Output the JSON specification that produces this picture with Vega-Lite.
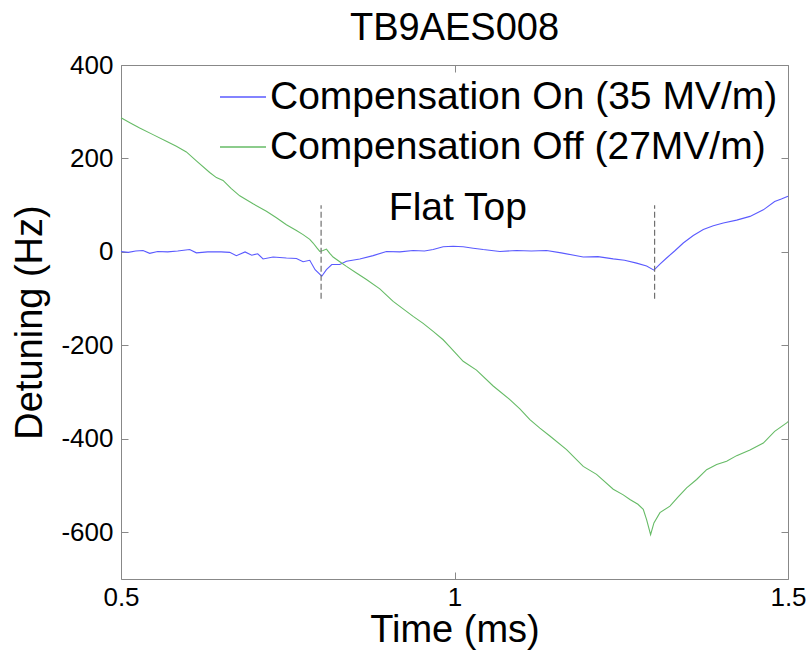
{
  "$schema": "https://vega.github.io/schema/vega-lite/v6.json",
  "autosize": {"type": "none"},
  "width": 667,
  "height": 514,
  "padding": {"left": 121, "top": 65, "right": 22, "bottom": 78},
  "background": "white",
  "config": {
    "font": "Liberation Sans",
    "view": {"stroke": "#888888", "strokeWidth": 1},
    "axis": {"grid": false, "domain": false, "tickColor": "#888888", "tickSize": -7, "labelColor": "black", "labelFont": "Liberation Sans", "labelFontSize": 26, "titleFont": "Liberation Sans", "titleFontSize": 38, "titleFontWeight": "normal", "titleColor": "black"}
  },
  "title": {"text": "TB9AES008", "fontSize": 38, "fontWeight": "normal", "font": "Liberation Sans", "color": "black", "offset": 4, "anchor": "middle"},
  "datasets": {
    "lines": [
      {"t":0.500,"v":1,"s":"Compensation On (35 MV/m)"},
      {"t":0.511,"v":-1,"s":"Compensation On (35 MV/m)"},
      {"t":0.522,"v":2,"s":"Compensation On (35 MV/m)"},
      {"t":0.533,"v":3,"s":"Compensation On (35 MV/m)"},
      {"t":0.543,"v":-3,"s":"Compensation On (35 MV/m)"},
      {"t":0.555,"v":1,"s":"Compensation On (35 MV/m)"},
      {"t":0.570,"v":0,"s":"Compensation On (35 MV/m)"},
      {"t":0.585,"v":2,"s":"Compensation On (35 MV/m)"},
      {"t":0.603,"v":5,"s":"Compensation On (35 MV/m)"},
      {"t":0.613,"v":-2,"s":"Compensation On (35 MV/m)"},
      {"t":0.630,"v":0,"s":"Compensation On (35 MV/m)"},
      {"t":0.650,"v":0,"s":"Compensation On (35 MV/m)"},
      {"t":0.663,"v":-1,"s":"Compensation On (35 MV/m)"},
      {"t":0.673,"v":-8,"s":"Compensation On (35 MV/m)"},
      {"t":0.686,"v":0,"s":"Compensation On (35 MV/m)"},
      {"t":0.696,"v":-7,"s":"Compensation On (35 MV/m)"},
      {"t":0.705,"v":-4,"s":"Compensation On (35 MV/m)"},
      {"t":0.713,"v":-15,"s":"Compensation On (35 MV/m)"},
      {"t":0.728,"v":-11,"s":"Compensation On (35 MV/m)"},
      {"t":0.748,"v":-13,"s":"Compensation On (35 MV/m)"},
      {"t":0.763,"v":-14,"s":"Compensation On (35 MV/m)"},
      {"t":0.773,"v":-21,"s":"Compensation On (35 MV/m)"},
      {"t":0.783,"v":-18,"s":"Compensation On (35 MV/m)"},
      {"t":0.791,"v":-38,"s":"Compensation On (35 MV/m)"},
      {"t":0.801,"v":-52,"s":"Compensation On (35 MV/m)"},
      {"t":0.808,"v":-38,"s":"Compensation On (35 MV/m)"},
      {"t":0.816,"v":-27,"s":"Compensation On (35 MV/m)"},
      {"t":0.828,"v":-27,"s":"Compensation On (35 MV/m)"},
      {"t":0.838,"v":-20,"s":"Compensation On (35 MV/m)"},
      {"t":0.858,"v":-15,"s":"Compensation On (35 MV/m)"},
      {"t":0.878,"v":-8,"s":"Compensation On (35 MV/m)"},
      {"t":0.898,"v":1,"s":"Compensation On (35 MV/m)"},
      {"t":0.918,"v":0,"s":"Compensation On (35 MV/m)"},
      {"t":0.938,"v":3,"s":"Compensation On (35 MV/m)"},
      {"t":0.955,"v":2,"s":"Compensation On (35 MV/m)"},
      {"t":0.968,"v":5,"s":"Compensation On (35 MV/m)"},
      {"t":0.983,"v":11,"s":"Compensation On (35 MV/m)"},
      {"t":0.998,"v":12,"s":"Compensation On (35 MV/m)"},
      {"t":1.013,"v":11,"s":"Compensation On (35 MV/m)"},
      {"t":1.028,"v":8,"s":"Compensation On (35 MV/m)"},
      {"t":1.043,"v":5,"s":"Compensation On (35 MV/m)"},
      {"t":1.068,"v":1,"s":"Compensation On (35 MV/m)"},
      {"t":1.093,"v":3,"s":"Compensation On (35 MV/m)"},
      {"t":1.115,"v":2,"s":"Compensation On (35 MV/m)"},
      {"t":1.138,"v":3,"s":"Compensation On (35 MV/m)"},
      {"t":1.160,"v":-2,"s":"Compensation On (35 MV/m)"},
      {"t":1.193,"v":-11,"s":"Compensation On (35 MV/m)"},
      {"t":1.215,"v":-10,"s":"Compensation On (35 MV/m)"},
      {"t":1.238,"v":-15,"s":"Compensation On (35 MV/m)"},
      {"t":1.255,"v":-18,"s":"Compensation On (35 MV/m)"},
      {"t":1.273,"v":-24,"s":"Compensation On (35 MV/m)"},
      {"t":1.288,"v":-30,"s":"Compensation On (35 MV/m)"},
      {"t":1.299,"v":-39,"s":"Compensation On (35 MV/m)"},
      {"t":1.308,"v":-26,"s":"Compensation On (35 MV/m)"},
      {"t":1.318,"v":-13,"s":"Compensation On (35 MV/m)"},
      {"t":1.330,"v":2,"s":"Compensation On (35 MV/m)"},
      {"t":1.343,"v":19,"s":"Compensation On (35 MV/m)"},
      {"t":1.358,"v":35,"s":"Compensation On (35 MV/m)"},
      {"t":1.373,"v":48,"s":"Compensation On (35 MV/m)"},
      {"t":1.388,"v":56,"s":"Compensation On (35 MV/m)"},
      {"t":1.403,"v":62,"s":"Compensation On (35 MV/m)"},
      {"t":1.423,"v":68,"s":"Compensation On (35 MV/m)"},
      {"t":1.443,"v":76,"s":"Compensation On (35 MV/m)"},
      {"t":1.463,"v":90,"s":"Compensation On (35 MV/m)"},
      {"t":1.480,"v":108,"s":"Compensation On (35 MV/m)"},
      {"t":1.490,"v":113,"s":"Compensation On (35 MV/m)"},
      {"t":1.500,"v":119,"s":"Compensation On (35 MV/m)"},
      {"t":0.500,"v":287,"s":"Compensation Off (27MV/m)"},
      {"t":0.514,"v":276,"s":"Compensation Off (27MV/m)"},
      {"t":0.528,"v":265,"s":"Compensation Off (27MV/m)"},
      {"t":0.548,"v":251,"s":"Compensation Off (27MV/m)"},
      {"t":0.568,"v":237,"s":"Compensation Off (27MV/m)"},
      {"t":0.583,"v":226,"s":"Compensation Off (27MV/m)"},
      {"t":0.598,"v":214,"s":"Compensation Off (27MV/m)"},
      {"t":0.613,"v":195,"s":"Compensation Off (27MV/m)"},
      {"t":0.633,"v":170,"s":"Compensation Off (27MV/m)"},
      {"t":0.643,"v":159,"s":"Compensation Off (27MV/m)"},
      {"t":0.653,"v":153,"s":"Compensation Off (27MV/m)"},
      {"t":0.665,"v":136,"s":"Compensation Off (27MV/m)"},
      {"t":0.678,"v":120,"s":"Compensation Off (27MV/m)"},
      {"t":0.698,"v":103,"s":"Compensation Off (27MV/m)"},
      {"t":0.718,"v":87,"s":"Compensation Off (27MV/m)"},
      {"t":0.733,"v":73,"s":"Compensation Off (27MV/m)"},
      {"t":0.748,"v":58,"s":"Compensation Off (27MV/m)"},
      {"t":0.763,"v":46,"s":"Compensation Off (27MV/m)"},
      {"t":0.773,"v":37,"s":"Compensation Off (27MV/m)"},
      {"t":0.783,"v":27,"s":"Compensation Off (27MV/m)"},
      {"t":0.788,"v":19,"s":"Compensation Off (27MV/m)"},
      {"t":0.794,"v":8,"s":"Compensation Off (27MV/m)"},
      {"t":0.798,"v":1,"s":"Compensation Off (27MV/m)"},
      {"t":0.803,"v":3,"s":"Compensation Off (27MV/m)"},
      {"t":0.808,"v":6,"s":"Compensation Off (27MV/m)"},
      {"t":0.813,"v":-3,"s":"Compensation Off (27MV/m)"},
      {"t":0.818,"v":-11,"s":"Compensation Off (27MV/m)"},
      {"t":0.828,"v":-21,"s":"Compensation Off (27MV/m)"},
      {"t":0.838,"v":-31,"s":"Compensation Off (27MV/m)"},
      {"t":0.853,"v":-45,"s":"Compensation Off (27MV/m)"},
      {"t":0.868,"v":-59,"s":"Compensation Off (27MV/m)"},
      {"t":0.888,"v":-79,"s":"Compensation Off (27MV/m)"},
      {"t":0.908,"v":-106,"s":"Compensation Off (27MV/m)"},
      {"t":0.923,"v":-122,"s":"Compensation Off (27MV/m)"},
      {"t":0.938,"v":-138,"s":"Compensation Off (27MV/m)"},
      {"t":0.953,"v":-153,"s":"Compensation Off (27MV/m)"},
      {"t":0.968,"v":-170,"s":"Compensation Off (27MV/m)"},
      {"t":0.983,"v":-188,"s":"Compensation Off (27MV/m)"},
      {"t":0.993,"v":-203,"s":"Compensation Off (27MV/m)"},
      {"t":1.013,"v":-234,"s":"Compensation Off (27MV/m)"},
      {"t":1.033,"v":-253,"s":"Compensation Off (27MV/m)"},
      {"t":1.058,"v":-287,"s":"Compensation Off (27MV/m)"},
      {"t":1.083,"v":-316,"s":"Compensation Off (27MV/m)"},
      {"t":1.098,"v":-336,"s":"Compensation Off (27MV/m)"},
      {"t":1.113,"v":-359,"s":"Compensation Off (27MV/m)"},
      {"t":1.128,"v":-377,"s":"Compensation Off (27MV/m)"},
      {"t":1.143,"v":-394,"s":"Compensation Off (27MV/m)"},
      {"t":1.168,"v":-423,"s":"Compensation Off (27MV/m)"},
      {"t":1.193,"v":-459,"s":"Compensation Off (27MV/m)"},
      {"t":1.213,"v":-476,"s":"Compensation Off (27MV/m)"},
      {"t":1.238,"v":-508,"s":"Compensation Off (27MV/m)"},
      {"t":1.253,"v":-520,"s":"Compensation Off (27MV/m)"},
      {"t":1.263,"v":-530,"s":"Compensation Off (27MV/m)"},
      {"t":1.275,"v":-540,"s":"Compensation Off (27MV/m)"},
      {"t":1.283,"v":-551,"s":"Compensation Off (27MV/m)"},
      {"t":1.288,"v":-573,"s":"Compensation Off (27MV/m)"},
      {"t":1.294,"v":-605,"s":"Compensation Off (27MV/m)"},
      {"t":1.299,"v":-580,"s":"Compensation Off (27MV/m)"},
      {"t":1.308,"v":-558,"s":"Compensation Off (27MV/m)"},
      {"t":1.323,"v":-544,"s":"Compensation Off (27MV/m)"},
      {"t":1.335,"v":-525,"s":"Compensation Off (27MV/m)"},
      {"t":1.348,"v":-505,"s":"Compensation Off (27MV/m)"},
      {"t":1.363,"v":-487,"s":"Compensation Off (27MV/m)"},
      {"t":1.378,"v":-466,"s":"Compensation Off (27MV/m)"},
      {"t":1.393,"v":-455,"s":"Compensation Off (27MV/m)"},
      {"t":1.408,"v":-448,"s":"Compensation Off (27MV/m)"},
      {"t":1.423,"v":-436,"s":"Compensation Off (27MV/m)"},
      {"t":1.443,"v":-424,"s":"Compensation Off (27MV/m)"},
      {"t":1.463,"v":-409,"s":"Compensation Off (27MV/m)"},
      {"t":1.480,"v":-384,"s":"Compensation Off (27MV/m)"},
      {"t":1.498,"v":-366,"s":"Compensation Off (27MV/m)"},
      {"t":1.500,"v":-363,"s":"Compensation Off (27MV/m)"}
    ],
    "marks": [
      {"t": 0.8, "lo": -100, "hi": 100},
      {"t": 1.3, "lo": -100, "hi": 100}
    ],
    "labels": [
      {"t": 1.005, "v": 95, "text": "Flat Top"}
    ]
  },
  "resolve": {"axis": {"x": "independent", "y": "independent"}},
  "layer": [
    {
      "data": {"name": "lines"},
      "mark": {"type": "line", "strokeWidth": 1.1, "interpolate": "linear"},
      "encoding": {
        "x": {"field": "t", "type": "quantitative", "scale": {"domain": [0.5, 1.5], "nice": false, "zero": false}, "axis": {"orient": "bottom", "values": [0.5, 1, 1.5], "labelExpr": "'' + datum.value", "labelPadding": 12, "title": "Time (ms)", "titlePadding": 1, "labelFlush": false}},
        "y": {"field": "v", "type": "quantitative", "scale": {"domain": [-700, 400], "nice": false, "zero": false}, "axis": {"orient": "left", "values": [-600, -400, -200, 0, 200, 400], "labelExpr": "'' + datum.value", "labelPadding": 15, "title": "Detuning (Hz)", "titlePadding": 11}},
        "color": {"field": "s", "type": "nominal", "scale": {"domain": ["Compensation On (35 MV/m)", "Compensation Off (27MV/m)"], "range": ["#5a5aff", "#66bb66"]},
          "legend": {"title": null, "orient": "none", "legendX": 98, "legendY": 8, "symbolType": "stroke", "symbolSize": 2116, "symbolStrokeWidth": 1.3, "labelFontSize": 39, "labelFont": "Liberation Sans", "labelColor": "black", "labelOffset": 3, "rowPadding": 6, "padding": 0, "labelLimit": 0}},
        "order": {"field": "t", "type": "quantitative"}
      }
    },
    {
      "data": {"name": "marks"},
      "mark": {"type": "rule", "color": "#707070", "strokeWidth": 1.2, "strokeDash": [6, 3]},
      "encoding": {
        "x": {"field": "t", "type": "quantitative", "axis": {"orient": "top", "values": [0.5, 1, 1.5], "labels": false, "title": null}},
        "y": {"field": "lo", "type": "quantitative", "axis": {"orient": "right", "values": [-600, -400, -200, 0, 200, 400], "labels": false, "title": null}},
        "y2": {"field": "hi"}
      }
    },
    {
      "data": {"name": "labels"},
      "mark": {"type": "text", "fontSize": 39, "font": "Liberation Sans", "align": "center", "baseline": "middle", "color": "black"},
      "encoding": {
        "x": {"field": "t", "type": "quantitative", "axis": null},
        "y": {"field": "v", "type": "quantitative", "axis": null},
        "text": {"field": "text"}
      }
    }
  ]
}
